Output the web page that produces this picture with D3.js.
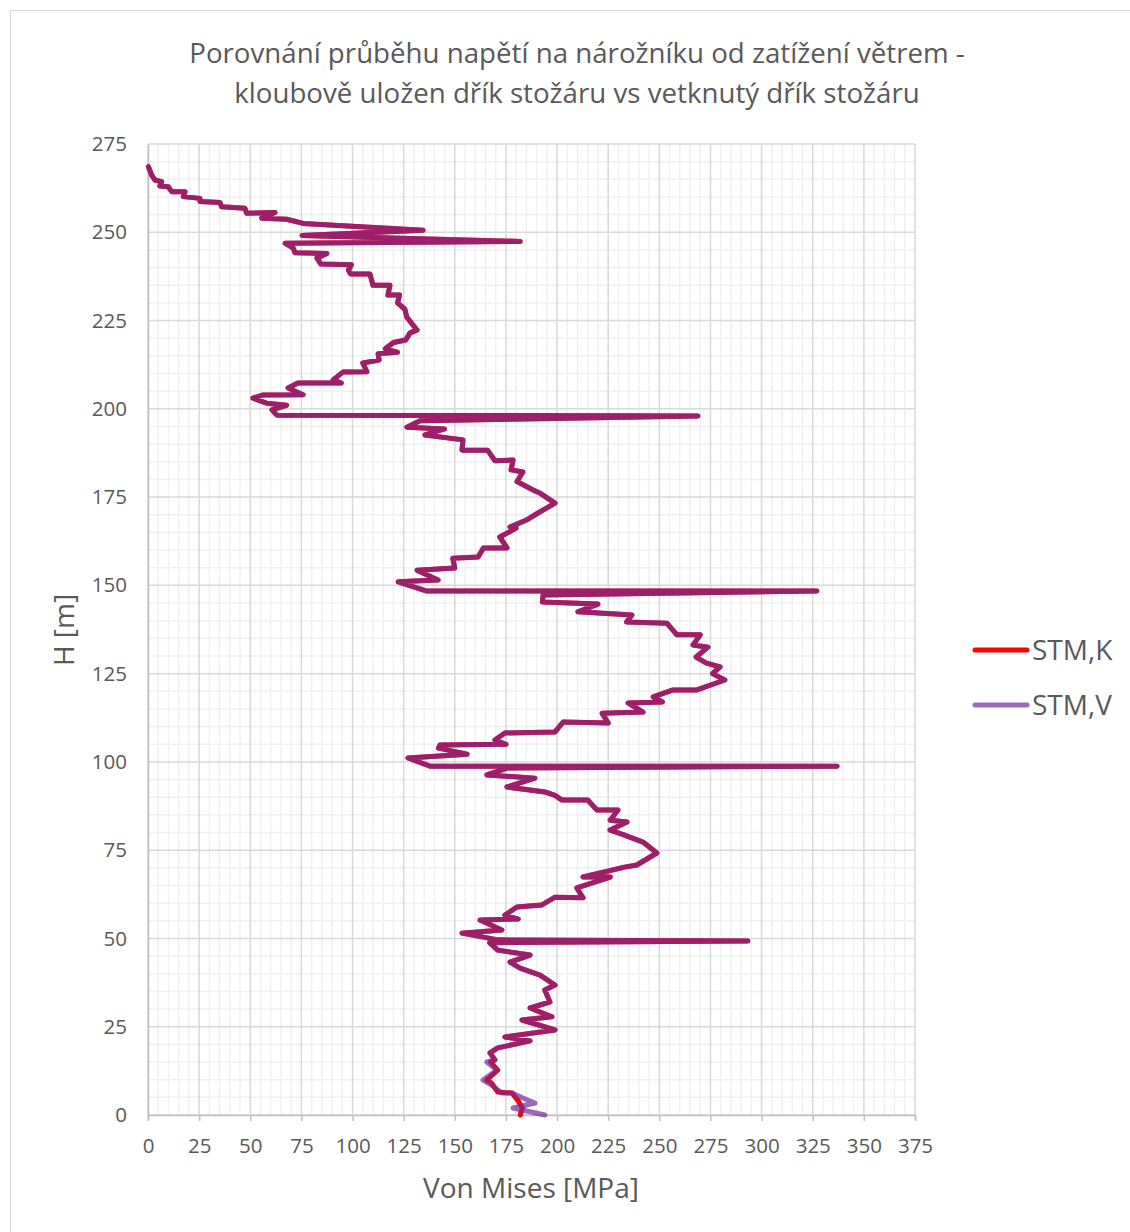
<!DOCTYPE html>
<html>
<head>
<meta charset="utf-8">
<script src="https://cdn.jsdelivr.net/npm/d3@7"></script>
<style>
  html, body { margin: 0; padding: 0; background: #fff; }
  svg { display: block; }
  text { font-family: "Open Sans", "Noto Sans", sans-serif; fill: #595959; }
</style>
</head>
<body>
<svg id="chart" width="1130" height="1232"></svg>
<script>
// Von Mises stress [MPa] against height H [m], listed from the top of the mast down.
// Above ~15 m both support variants give the same profile.
const profileUpper = [
  [0.2,268.6],[1.8,266.2],[3.4,264.8],[6.7,264.3],[5.8,263.1],[9.9,262.9],[11.6,261.5],
  [18.1,261.5],[17.3,260.1],[25.4,259.6],[25.4,258.7],[35.2,258.4],[36,257.2],[47.4,256.8],
  [48.2,255.4],[62.1,255.6],[55.6,254],[67.8,253.7],[75.9,252.5],[134.5,250.6],[75.3,249.1],
  [182,247.4],[67,246.9],[71,245.5],[71.9,244.2],[87.5,244.0],[82.6,242.7],[84.5,241.0],
  [99.5,240.8],[98,239.3],[99,238.2],[108.5,238.2],[110,235],[118.3,235],[117.3,232.2],
  [123,232.2],[122,230],[125.6,228.2],[126.5,226],[129.6,223.7],[131.5,222.3],[128.1,221.5],
  [126,219.5],[120,218.8],[116,217],[122,216],[112.5,215.6],[113,213.8],[105,213],[107,210.5],
  [95.3,210.4],[90.5,208.2],[94.5,207.3],[73.3,207.3],[68.5,205.9],[75.8,204],[56,203.9],
  [51.3,203],[58,201.6],[67.8,201],[60.6,199.7],[63,198.2],[268.9,198.0],[133,196.6],
  [126.6,194.8],[145,194.3],[135.4,192.6],[154,191.2],[153.5,188.3],[166,188.3],[169.6,185.3],
  [178.5,185.5],[177.5,182.7],[183.3,182.1],[180.4,179.4],[188.3,177],[192,176],[199,173.3],
  [190.7,170.5],[185,168.5],[177,166.5],[180,166.2],[172,163.7],[175.5,160.6],[164,160.6],
  [161.4,158],[149,157.7],[150,154.9],[131.5,154.3],[141.8,151.5],[122.3,151],[136.4,148.4],
  [327,148.4],[193.2,147.3],[192.8,145.3],[220,144.7],[210.2,142.5],[236.6,141.6],[234,139.6],
  [253.7,139.3],[258.6,136],[270,136],[266.5,133.1],[273.8,132.5],[268,129.7],[273,128],
  [279.7,126.9],[276,125],[282,123.2],[268.4,120.4],[256.7,120.4],[247,118.4],[251.5,117],
  [234.7,116.7],[242,114.1],[222,113.8],[225,111],[203,111.3],[199,108.5],[174.5,108.2],
  [169.6,106.2],[175,105],[142.8,104.8],[142,103.9],[156,102.2],[127.1,101.1],[137.9,98.8],
  [336.9,98.8],[176,98.3],[165.7,96.3],[189.2,95.4],[175.5,92.9],[194,91.5],[199,90.5],
  [202.4,89.2],[215,89.2],[219.5,86.4],[229.8,86.4],[226,83.5],[234.2,83],[225.9,80.7],
  [232,79.5],[242,77.3],[248.8,74.2],[239,70.8],[233,70.2],[212.7,67.4],[226,67.4],
  [209.7,64.3],[212.7,61.5],[199,61.7],[192.6,59.5],[180.4,58.9],[174.5,56.6],[181,55.5],
  [162.3,55.2],[173,52.4],[153.5,51.5],[171.1,49.6],[293.3,49.3],[167,48.8],[171,46.7],
  [186.8,45.3],[177,43.3],[181.9,41.6],[191.7,39.6],[199,36.8],[194,35.4],[196.5,32],
  [186.8,30.3],[197.5,27.8],[182.8,26.9],[199,24.1],[174.5,22.1],[186.8,21],[171,19],
  [167.2,17.6],[169.6,15.6]
];

// Base of the mast: hinged support (STM,K)
const baseK = [
  [167.5,15],[171,12.7],[165.5,9.9],[168,9],[171,6.5],[178,6.2],[181,4],[183,2],[182,0]
];

// Base of the mast: fixed support (STM,V)
const baseV = [
  [165.7,15],[170.6,12.7],[163.8,9.9],[168,8.5],[173,6.2],[178,6.2],[183.3,4.8],
  [189.2,3.4],[178.5,2],[194,0]
];

const xTicks = d3.range(0, 376, 25);
const yTicks = d3.range(0, 276, 25);
const xMinor = d3.range(0, 376, 5);
const yMinor = d3.range(0, 276, 5);

const series = [
  { name: "STM,K", points: profileUpper.concat(baseK), color: "#ff0000", opacity: 1 },
  { name: "STM,V", points: profileUpper.concat(baseV), color: "rgb(112,44,153)", opacity: 0.7 }
];

const titleLines = [
  "Porovnání průběhu napětí na nárožníku od zatížení větrem -",
  "kloubově uložen dřík stožáru vs vetknutý dřík stožáru"
];

const svg = d3.select("#chart");
const plot = { left: 148, right: 915, top: 144, bottom: 1115 };

const x = d3.scaleLinear().domain([0, 375]).range([plot.left, plot.right]);
const y = d3.scaleLinear().domain([0, 275]).range([plot.bottom, plot.top]);

// chart frame
svg.append("rect")
  .attr("x", 10.5).attr("y", 10.5).attr("width", 1200).attr("height", 1300)
  .attr("fill", "#fff").attr("stroke", "#d9d9d9").attr("stroke-width", 1);

// minor grid
const grid = svg.append("g");
grid.selectAll(".vminor").data(xMinor.filter(v => v % 25 !== 0)).join("line")
  .attr("x1", d => x(d)).attr("x2", d => x(d))
  .attr("y1", plot.top).attr("y2", plot.bottom)
  .attr("stroke", "#f0f0f0").attr("stroke-width", 1.5);
grid.selectAll(".hminor").data(yMinor.filter(v => v % 25 !== 0)).join("line")
  .attr("x1", plot.left).attr("x2", plot.right)
  .attr("y1", d => y(d)).attr("y2", d => y(d))
  .attr("stroke", "#f0f0f0").attr("stroke-width", 1.5);

// major grid
grid.selectAll(".vmajor").data(xTicks).join("line")
  .attr("x1", d => x(d)).attr("x2", d => x(d))
  .attr("y1", plot.top).attr("y2", plot.bottom)
  .attr("stroke", "#d9d9d9").attr("stroke-width", 1.5);
grid.selectAll(".hmajor").data(yTicks).join("line")
  .attr("x1", plot.left).attr("x2", plot.right)
  .attr("y1", d => y(d)).attr("y2", d => y(d))
  .attr("stroke", "#d9d9d9").attr("stroke-width", 1.5);

// x axis
const xAxis = svg.append("g")
  .attr("transform", `translate(0,${plot.bottom})`)
  .call(d3.axisBottom(x).tickValues(xTicks).tickSize(6).tickPadding(17));
xAxis.select(".domain").attr("stroke", "#bfbfbf").attr("stroke-width", 1.5);
xAxis.selectAll(".tick line").attr("stroke", "#bfbfbf").attr("stroke-width", 1.5);
xAxis.selectAll(".tick text").attr("font-size", 20.5).attr("fill", "#595959")
  .attr("font-family", "Open Sans");

// y axis
const yAxis = svg.append("g")
  .attr("transform", `translate(${plot.left},0)`)
  .call(d3.axisLeft(y).tickValues(yTicks).tickSize(0).tickPadding(21));
yAxis.select(".domain").attr("stroke", "#bfbfbf").attr("stroke-width", 1.5);
yAxis.selectAll(".tick text").attr("font-size", 20.5).attr("fill", "#595959")
  .attr("font-family", "Open Sans");

// series
const line = d3.line().x(d => x(d[0])).y(d => y(d[1]));
svg.append("g").selectAll("path").data(series).join("path")
  .attr("d", d => line(d.points))
  .attr("fill", "none")
  .attr("stroke", d => d.color)
  .attr("stroke-opacity", d => d.opacity)
  .attr("stroke-width", 5)
  .attr("stroke-linejoin", "round")
  .attr("stroke-linecap", "round");

// title
svg.append("g").selectAll("text").data(titleLines).join("text")
  .attr("x", 577).attr("y", (d, i) => 63 + i * 40)
  .attr("text-anchor", "middle")
  .attr("font-size", 27.7)
  .text(d => d);

// axis titles
svg.append("text")
  .attr("x", 531).attr("y", 1198)
  .attr("text-anchor", "middle").attr("font-size", 28)
  .text("Von Mises [MPa]");
svg.append("text")
  .attr("transform", "translate(74,630) rotate(-90)")
  .attr("text-anchor", "middle").attr("font-size", 28)
  .text("H [m]");

// legend
const legend = svg.append("g").selectAll("g").data(series).join("g")
  .attr("transform", (d, i) => `translate(975,${650 + i * 55})`);
legend.append("line")
  .attr("x1", 0).attr("x2", 52).attr("y1", 0).attr("y2", 0)
  .attr("stroke", d => d.color).attr("stroke-opacity", d => d.opacity)
  .attr("stroke-width", 5).attr("stroke-linecap", "round");
legend.append("text")
  .attr("x", 57).attr("y", 10)
  .attr("font-size", 28)
  .text(d => d.name);
</script>
</body>
</html>
